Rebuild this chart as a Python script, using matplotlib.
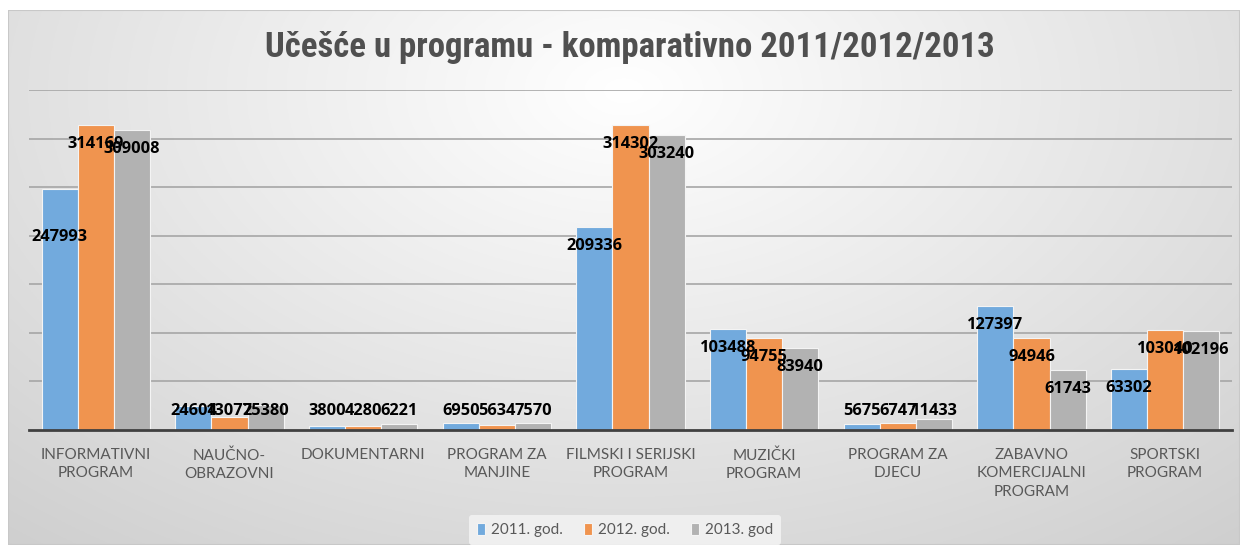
import numpy as np
import matplotlib
matplotlib.use("Agg")
import matplotlib.pyplot as plt
from matplotlib.patches import Rectangle
from matplotlib import font_manager

categories = ["INFORMATIVNI\nPROGRAM", "NAUČNO-\nOBRAZOVNI", "DOKUMENTARNI",
              "PROGRAM ZA\nMANJINE", "FILMSKI I SERIJSKI\nPROGRAM", "MUZIČKI\nPROGRAM",
              "PROGRAM ZA\nDJECU", "ZABAVNO\nKOMERCIJALNI\nPROGRAM", "SPORTSKI\nPROGRAM"]
series_names = ["2011. god.", "2012. god.", "2013. god"]
v2011 = [247993, 24604, 3800, 6950, 209336, 103488, 5675, 127397, 63302]
v2012 = [314169, 13077, 4280, 5634, 314302, 94755, 6747, 94946, 103040]
v2013 = [309008, 25380, 6221, 7570, 303240, 83940, 11433, 61743, 102196]
colors = ["#72AADD", "#F0944F", "#B2B2B2"]

names = {f.name for f in font_manager.fontManager.ttflist}
narrow = "Liberation Sans Narrow" if "Liberation Sans Narrow" in names else "Roboto Condensed" if "Roboto Condensed" in names else "Liberation Sans"

W, H = 1244, 550
fig = plt.figure(figsize=(W / 100, H / 100), dpi=100)
fig.patch.set_facecolor("white")

# background frame with radial gradient
bg = fig.add_axes([8 / W, 1 - 545 / H, (1240 - 8) / W, (545 - 10) / H])
yy, xx = np.mgrid[0:1:300j, 0:1:600j]
r = np.sqrt(((xx - 0.5) / 0.7) ** 2 + ((yy - 0.85) / 1.0) ** 2)
g = np.clip(1.0 - 0.17 * r, 0.80, 1.0)
img = np.dstack([g, g, g])
bg.imshow(img, aspect="auto", extent=[0, 1, 0, 1], origin="lower")
bg.set_xlim(0, 1); bg.set_ylim(0, 1)
bg.axis("off")
bg.add_patch(Rectangle((0, 0), 1, 1, fill=False, edgecolor="#c8c8c8", lw=1.5, transform=bg.transAxes))

ax = fig.add_axes([29 / W, 1 - 430 / H, (1232 - 29) / W, (430 - 90) / H])
ax.patch.set_alpha(0)
x = np.arange(len(categories))
bw = 0.27
ymax = 350000
px = ymax / 340.0
extra_shift = {(0, 0): -29}  # label shifted further down in the reference
for i, (vals, c) in enumerate(zip([v2011, v2012, v2013], colors)):
    xs = x + (i - 1) * bw
    ax.bar(xs, vals, width=bw, color=c, edgecolor="#f4f4f4", linewidth=0.8, zorder=3, label=series_names[i])
    for j, (xi, v) in enumerate(zip(xs, vals)):
        ly = max(v - 19 * px, 19 * px) + extra_shift.get((i, j), 0) * px
        ax.text(xi, ly, f"{v}", ha="center", va="center", fontsize=11.8, fontweight="bold",
                family="Open Sans", color="black", zorder=5)

ax.set_ylim(0, ymax)
ax.set_xlim(-0.5, len(categories) - 0.5)
ax.set_yticks(np.arange(50000, ymax + 1, 50000))
ax.yaxis.grid(True, color="#a6a6a6", lw=1.2, zorder=0)
ax.set_yticklabels([])
ax.tick_params(axis="y", length=0)
ax.set_xticks(x)
ax.set_xticklabels(categories, fontsize=11, color="#595959", family=["Lato", "DejaVu Sans"], linespacing=1.4)
ax.tick_params(axis="x", length=0, pad=13)
for s in ["top", "right", "left"]:
    ax.spines[s].set_visible(False)
ax.spines["bottom"].set_color("#404040")
ax.spines["bottom"].set_linewidth(2)
ax.spines["bottom"].set_zorder(6)

fig.text(630 / W, 1 - 47 / H, "Učešće u programu - komparativno 2011/2012/2013", ha="center", va="center",
         fontsize=25, fontweight="bold", color="#505050", family=[narrow, "DejaVu Sans"])

leg = ax.legend(loc="center", bbox_to_anchor=(625 / W, 1 - 530 / H), bbox_transform=fig.transFigure,
                ncol=3, frameon=True, handlelength=0.5, handleheight=0.9, handletextpad=0.4,
                columnspacing=1.4, borderpad=0.5, prop={"family": ["Lato", "DejaVu Sans"], "size": 11})
leg.get_frame().set_facecolor("#f2f2f2")
leg.get_frame().set_edgecolor("none")
leg.get_frame().set_alpha(0.9)
for t in leg.get_texts():
    t.set_color("#595959")

fig.savefig("out.png", dpi=100)
